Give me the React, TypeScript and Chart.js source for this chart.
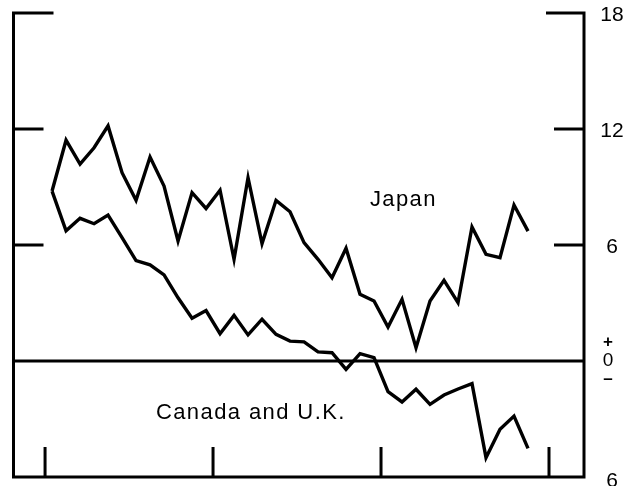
import React, { useEffect, useRef } from "react";
import { Chart, registerables } from "chart.js";

Chart.register(...registerables);

// Series values (percent), one per period
const japan: number[] = [
  8.79, 11.42, 10.18, 11.03, 12.16, 9.74, 8.31, 10.55, 9.05, 6.21,
  8.71, 7.89, 8.83, 5.26, 9.48, 6.07, 8.31, 7.72, 6.12, 5.26,
  4.31, 5.83, 3.45, 3.1, 1.76, 3.19, 0.69, 3.1, 4.17, 3.02,
  6.93, 5.52, 5.34, 8.07, 6.72,
];
const canadaUK: number[] = [
  8.79, 6.74, 7.38, 7.1, 7.55, 6.38, 5.19, 4.97, 4.45, 3.27,
  2.21, 2.61, 1.41, 2.36, 1.35, 2.16, 1.38, 1.03, 0.99, 0.47,
  0.43, -0.43, 0.38, 0.17, -1.59, -2.12, -1.46, -2.24, -1.76, -1.45,
  -1.17, -5.0, -3.53, -2.85, -4.52,
];
const seriesLabels: string[] = ["Japan", "Canada and U.K."];
const yTickValues: number[] = [18, 12, 6];
const yTickLabels: string[] = ["18", "12", "6"];
const bottomLabel = "6";
const xTickValues: number[] = [-0.5, 11.5, 23.5, 35.5];

const axesPlugin = {
  id: "axesPlugin",
  afterDatasetsDraw(chart: any) {
    const { ctx, chartArea, scales } = chart;
    const x = scales.x;
    const y = scales.y;
    const L = chartArea.left + 0.5;
    const R = chartArea.right;
    const T = chartArea.top;
    const B = chartArea.bottom;
    ctx.save();
    ctx.strokeStyle = "#000";
    ctx.lineWidth = 3;
    ctx.lineCap = "butt";
    // frame: left, right, bottom
    ctx.beginPath();
    ctx.moveTo(L, T - 1.5);
    ctx.lineTo(L, B);
    ctx.moveTo(R, T - 1.5);
    ctx.lineTo(R, B);
    ctx.moveTo(L - 1.5, B);
    ctx.lineTo(R + 1.5, B);
    // zero line
    const y0 = y.getPixelForValue(0);
    ctx.moveTo(L, y0);
    ctx.lineTo(R, y0);
    // y ticks (inward)
    yTickValues.forEach((v, i) => {
      const py = y.getPixelForValue(v);
      const lenL = i === 0 ? 40 : 30;
      const lenR = i === 0 ? 38 : 30;
      ctx.moveTo(L, py);
      ctx.lineTo(L + lenL, py);
      ctx.moveTo(R, py);
      ctx.lineTo(R - lenR, py);
    });
    // x ticks (upward from bottom)
    xTickValues.forEach((v) => {
      const px = x.getPixelForValue(v);
      ctx.moveTo(px, B);
      ctx.lineTo(px, B - 30);
    });
    ctx.stroke();

    // right labels
    ctx.fillStyle = "#000";
    ctx.font = '21px "Liberation Sans", Arial, sans-serif';
    ctx.textAlign = "center";
    ctx.textBaseline = "middle";
    const lx = R + 28;
    yTickValues.forEach((v, i) => {
      ctx.fillText(yTickLabels[i], lx, y.getPixelForValue(v) + 2);
    });
    ctx.fillText(bottomLabel, lx, y.getPixelForValue(-6) + 4);
    // +0- marker
    ctx.font = '19px "Liberation Sans", Arial, sans-serif';
    ctx.fillText("0", lx - 4, y0);
    ctx.font = 'bold 17px "Liberation Sans", Arial, sans-serif';
    ctx.fillText("+", lx - 4, y0 - 19);
    ctx.fillText("\u2013", lx - 4, y0 + 18);

    // series labels
    ctx.font = '22px "Liberation Sans", Arial, sans-serif';
    (ctx as any).letterSpacing = "1.4px";
    ctx.textBaseline = "alphabetic";
    ctx.fillText(seriesLabels[0], x.getPixelForValue(25.1), y.getPixelForValue(8.02));
    ctx.fillText(seriesLabels[1], x.getPixelForValue(14.2), y.getPixelForValue(-3.0));
    ctx.restore();
  },
};

export default function App() {
  const ref = useRef<HTMLCanvasElement | null>(null);
  useEffect(() => {
    if (!ref.current) return;
    const chart = new Chart(ref.current, {
      type: "line",
      data: {
        datasets: [
          {
            label: seriesLabels[0],
            data: japan.map((v, i) => ({ x: i, y: v })),
            borderColor: "#000",
            borderWidth: 3.4,
            pointRadius: 0,
            tension: 0,
            borderJoinStyle: "miter",
          },
          {
            label: seriesLabels[1],
            data: canadaUK.map((v, i) => ({ x: i, y: v })),
            borderColor: "#000",
            borderWidth: 3.4,
            pointRadius: 0,
            tension: 0,
            borderJoinStyle: "miter",
          },
        ],
      },
      options: {
        animation: false,
        responsive: false,
        devicePixelRatio: 1,
        layout: { padding: { left: 13, top: 13, right: 45, bottom: 9 } },
        plugins: { legend: { display: false }, tooltip: { enabled: false } },
        scales: {
          x: { type: "linear", min: -2.79, max: 38.0, display: false },
          y: { type: "linear", min: -6, max: 18, display: false },
        },
      },
      plugins: [axesPlugin],
    });
    return () => chart.destroy();
  }, []);
  return (
    <div style={{ position: "absolute", left: 0, top: 0, width: 629, height: 486, background: "#fff" }}>
      <canvas ref={ref} width={629} height={486} />
    </div>
  );
}
